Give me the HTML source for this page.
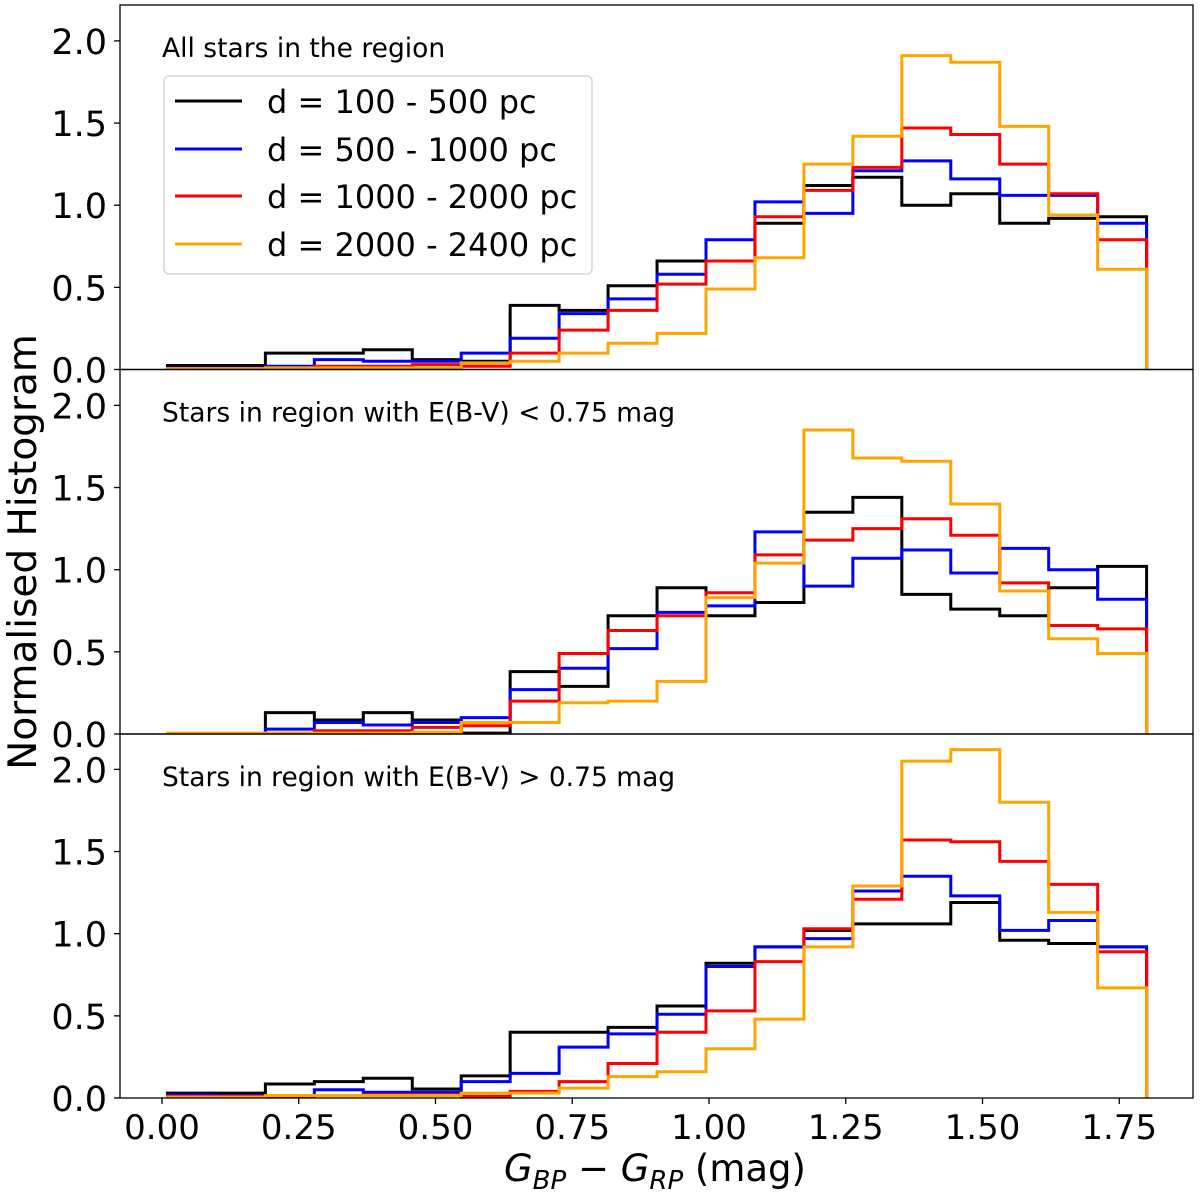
<!DOCTYPE html>
<html><head><meta charset="utf-8"><style>
html,body{margin:0;padding:0;background:#fff;}
svg{display:block;font-family:"DejaVu Sans","Liberation Sans",sans-serif;}
</style></head><body>
<svg id="fig" width="1200" height="1193" viewBox="0 0 1200 1193" xmlns="http://www.w3.org/2000/svg">
<rect width="1200" height="1193" fill="#fff"/>
<g id="plots"></g>
<text x="0" y="0" transform="translate(36,552) rotate(-90)" text-anchor="middle" font-size="39">Normalised Histogram</text>
<text x="655" y="1181" text-anchor="middle" font-size="37"><tspan font-style="italic">G</tspan><tspan font-style="italic" font-size="26" dy="8">BP</tspan><tspan dy="-8"> − </tspan><tspan font-style="italic">G</tspan><tspan font-style="italic" font-size="26" dy="8">RP</tspan><tspan dy="-8"> (mag)</tspan></text>
<g>
<rect x="164" y="76" width="428" height="198" rx="5" fill="#fff" stroke="#d6d6d6" stroke-width="1.5"/>
<line x1="175" y1="101" x2="242" y2="101" stroke="#000" stroke-width="3"/>
<text x="267" y="113" font-size="32">d = 100 - 500 pc</text>
<line x1="175" y1="149" x2="242" y2="149" stroke="#0000ff" stroke-width="3"/>
<text x="267" y="161" font-size="32">d = 500 - 1000 pc</text>
<line x1="175" y1="196" x2="242" y2="196" stroke="#ff0000" stroke-width="3"/>
<text x="267" y="208" font-size="32">d = 1000 - 2000 pc</text>
<line x1="175" y1="244" x2="242" y2="244" stroke="#ffa500" stroke-width="3"/>
<text x="267" y="256" font-size="32">d = 2000 - 2400 pc</text>
</g>
</svg>
<script>
const binStart = 0.01;
const binEnd = 1.80;
const nBins = 20;
const yTicks = [0, 0.5, 1.0, 1.5, 2.0];
const yTickLabels = ["0.0", "0.5", "1.0", "1.5", "2.0"];
const xTicks = [0, 0.25, 0.5, 0.75, 1.0, 1.25, 1.5, 1.75];
const xTickLabels = ["0.00", "0.25", "0.50", "0.75", "1.00", "1.25", "1.50", "1.75"];
const panelTitles = ["All stars in the region", "Stars in region with E(B-V) < 0.75 mag", "Stars in region with E(B-V) > 0.75 mag"];
const seriesNames = ["d = 100 - 500 pc", "d = 500 - 1000 pc", "d = 1000 - 2000 pc", "d = 2000 - 2400 pc"];

const allBlack = [0.024,0.024,0.10,0.10,0.12,0.06,0.05,0.39,0.36,0.51,0.66,0.66,0.89,1.12,1.17,1.00,1.07,0.89,0.92,0.93];
const allBlue = [0.01,0.01,0.02,0.06,0.05,0.05,0.10,0.19,0.34,0.43,0.58,0.79,1.02,0.95,1.21,1.27,1.16,1.06,1.06,0.89];
const allRed = [0.005,0.005,0.01,0.02,0.02,0.03,0.02,0.10,0.24,0.36,0.52,0.66,0.93,1.09,1.23,1.47,1.43,1.25,1.07,0.79];
const allOrange = [0.005,0.005,0.01,0.01,0.01,0.01,0.04,0.05,0.10,0.16,0.22,0.49,0.68,1.25,1.42,1.91,1.87,1.48,0.94,0.61];

const lowBlack = [0,0,0.13,0.085,0.13,0.085,0.005,0.38,0.29,0.72,0.89,0.72,0.80,1.35,1.44,0.85,0.76,0.72,0.89,1.02];
const lowBlue = [0,0,0.03,0.07,0.055,0.07,0.10,0.27,0.40,0.52,0.74,0.78,1.23,0.90,1.07,1.12,0.98,1.13,1.00,0.82];
const lowRed = [0,0,0.005,0.02,0.02,0.04,0.05,0.20,0.49,0.63,0.72,0.86,1.09,1.18,1.25,1.31,1.21,0.92,0.66,0.64];
const lowOrange = [0.005,0.005,0.005,0.005,0.005,0.01,0.07,0.07,0.19,0.20,0.32,0.83,1.04,1.85,1.68,1.66,1.40,0.87,0.58,0.49];

const highBlack = [0.03,0.03,0.085,0.10,0.12,0.055,0.135,0.40,0.40,0.43,0.56,0.82,0.92,1.02,1.06,1.06,1.19,0.96,0.94,0.92];
const highBlue = [0.02,0.015,0.015,0.05,0.035,0.035,0.10,0.15,0.31,0.39,0.51,0.80,0.92,0.97,1.26,1.35,1.23,1.02,1.08,0.92];
const highRed = [0.01,0.01,0.01,0.015,0.02,0.02,0.01,0.04,0.10,0.21,0.40,0.53,0.83,1.03,1.21,1.57,1.56,1.44,1.30,0.89];
const highOrange = [0.005,0.005,0.015,0.015,0.015,0.015,0.03,0.03,0.06,0.13,0.16,0.30,0.48,0.92,1.29,2.05,2.12,1.80,1.13,0.67];

const panels = [[allBlack,allBlue,allRed,allOrange],[lowBlack,lowBlue,lowRed,lowOrange],[highBlack,highBlue,highRed,highOrange]];
const colors = ["#000000","#0000ff","#ff0000","#ffa500"];
const seriesKeys = ["100-500","500-1000","1000-2000","2000-2400"];

const NS = "http://www.w3.org/2000/svg";
const L = 120, R = 1193;
const panelTop = [5, 369.5, 734];
const panelBottom = [369.5, 734, 1098];
const pxPerUnitY = 164.3;
const x0px = 162, pxPerUnitX = 547;
function xs(v){ return x0px + v*pxPerUnitX; }
function ys(p, v){ return panelBottom[p] - v*pxPerUnitY; }
function mk(tag, attrs, parent){ const e = document.createElementNS(NS, tag); for (const k in attrs) e.setAttribute(k, attrs[k]); parent.appendChild(e); return e; }

const root = document.getElementById('plots');
const w = (binEnd - binStart)/nBins;
panels.forEach((series, p) => {
  const g = mk('g', {}, root);
  
  
  const clip = mk('clipPath', {id:'clip'+p}, g);
  mk('rect', {x:L, y:panelTop[p], width:R-L, height:panelBottom[p]-panelTop[p]}, clip);
  series.forEach((vals, s) => {
    let d = 'M' + xs(binStart) + ',' + ys(p,0);
    vals.forEach((v, i) => {
      const a = xs(binStart + i*w), b = xs(binStart + (i+1)*w);
      d += ' L' + a + ',' + ys(p,v) + ' L' + b + ',' + ys(p,v);
    });
    d += ' L' + xs(binEnd) + ',' + ys(p,0);
    const path = mk('path', {d:d, fill:'none', stroke:colors[s], 'stroke-width':3, 'stroke-linejoin':'miter', 'clip-path':'url(#clip'+p+')'}, g);
    
    
  });
  yTicks.forEach((t, i) => {
    const y = ys(p, t);
    mk('line', {x1:L-6, y1:y, x2:L, y2:y, stroke:'#000', 'stroke-width':1.3}, g);
    const tx = mk('text', {x:L-13, y:y+13, 'text-anchor':'end', 'font-size':35}, g);
    tx.textContent = yTickLabels[i];
    
    
  });
  const tt = mk('text', {x:162, y:panelTop[p]+52, 'font-size':26.5}, g);
  tt.textContent = panelTitles[p];
  
  
  const fr = mk('rect', {x:L, y:panelTop[p], width:R-L, height:panelBottom[p]-panelTop[p], fill:'none', stroke:'#000', 'stroke-width':1.3}, g);
  
  
});
xTicks.forEach((t, i) => {
  const x = xs(t);
  mk('line', {x1:x, y1:1098, x2:x, y2:1104, stroke:'#000', 'stroke-width':1.3}, root);
  const tx = mk('text', {x:x, y:1139, 'text-anchor':'middle', 'font-size':34}, root);
  tx.textContent = xTickLabels[i];
  
  
});
</script>
</body></html>
